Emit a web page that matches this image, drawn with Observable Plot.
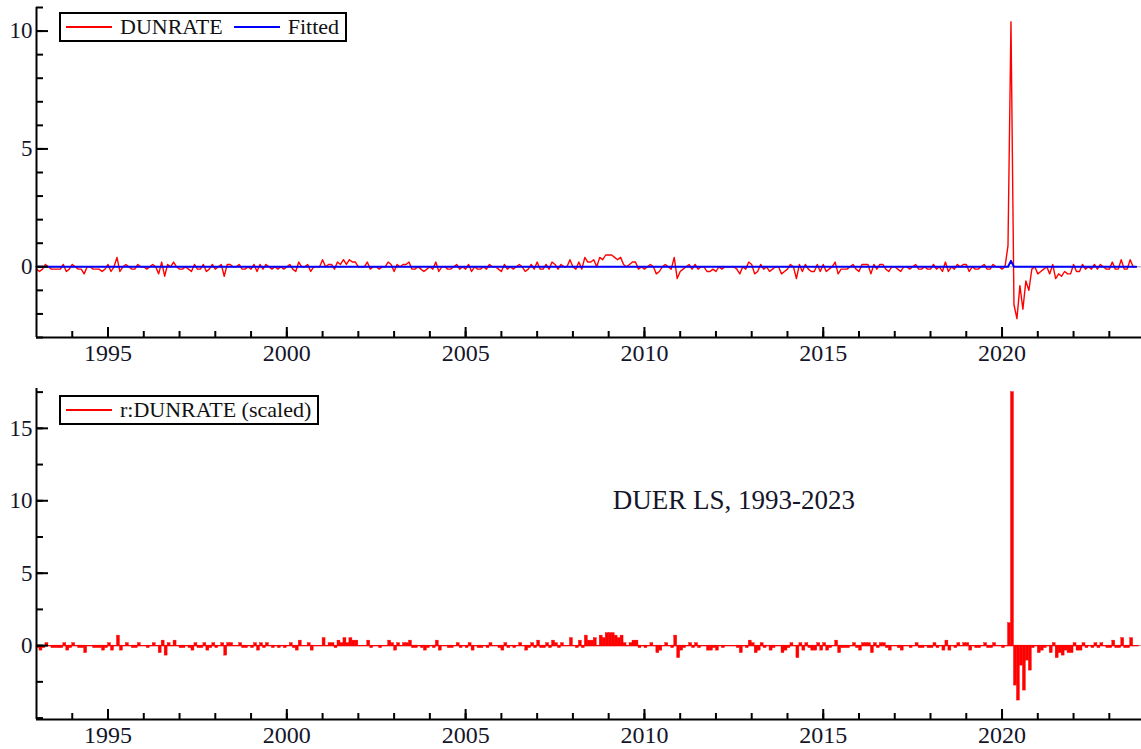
<!DOCTYPE html>
<html>
<head>
<meta charset="utf-8">
<script src="https://cdn.jsdelivr.net/npm/d3@7"></script>
<script src="https://cdn.jsdelivr.net/npm/@observablehq/plot@0.6"></script>
<style>
  html, body { margin: 0; padding: 0; background: #fff; }
  #wrap { position: relative; width: 1141px; height: 749px; font-family: "Liberation Serif", "Times New Roman", serif; }
  .legend { position: absolute; border: 2px solid #000; background: #fff; height: 26px; display: flex; align-items: center; font-size: 22px; color: #111; box-sizing: content-box; }
  .legend .sw { display: inline-block; width: 46px; height: 2px; margin: 0 8px 0 5px; }
  .legend .lab { margin-right: 6px; }
  svg { display: block; }
</style>
</head>
<body>
<div id="wrap">
  <div id="top"></div>
  <div id="bottom"></div>
</div>
<script>
// ---------- data ----------
const startYear = 1993;           // first observation: Jan 1993, monthly
const dunrate = [
  // 1993
  -0.1,-0.2,-0.1, 0.1, 0.0,-0.1,-0.1,-0.1,-0.1, 0.1,-0.2,-0.1,
  // 1994
   0.1, 0.0,-0.1,-0.1,-0.3, 0.0, 0.0,-0.1,-0.1,-0.1,-0.2,-0.1,
  // 1995
   0.1,-0.2, 0.0, 0.4,-0.2, 0.0, 0.1, 0.0,-0.1,-0.1, 0.1, 0.0,
  // 1996
   0.0,-0.1, 0.0, 0.1, 0.0,-0.3, 0.2,-0.4, 0.1, 0.0, 0.2, 0.0,
  // 1997
  -0.1,-0.1, 0.0,-0.1,-0.2, 0.1,-0.1,-0.1, 0.1,-0.2,-0.1, 0.1,
  // 1998
  -0.1, 0.0, 0.1,-0.4, 0.1, 0.1, 0.0, 0.0, 0.1,-0.1,-0.1, 0.0,
  // 1999
  -0.1, 0.1,-0.2, 0.1,-0.1, 0.1, 0.0,-0.1, 0.0,-0.1, 0.0,-0.1,
  // 2000
   0.0, 0.1,-0.1,-0.2, 0.2, 0.0, 0.0, 0.1,-0.2, 0.0, 0.0, 0.0,
  // 2001
   0.3, 0.0, 0.1, 0.1,-0.1, 0.2, 0.1, 0.3, 0.1, 0.3, 0.2, 0.2,
  // 2002
   0.0, 0.0, 0.0, 0.2,-0.1, 0.0, 0.0,-0.1, 0.0, 0.0, 0.2, 0.1,
  // 2003
  -0.2, 0.1, 0.0, 0.1, 0.1, 0.2,-0.1,-0.1, 0.0,-0.1,-0.2,-0.1,
  // 2004
   0.0,-0.1, 0.2,-0.2, 0.0, 0.0,-0.1,-0.1, 0.0, 0.1,-0.1, 0.0,
  // 2005
  -0.1, 0.1,-0.2, 0.0,-0.1,-0.1, 0.0,-0.1, 0.1, 0.0, 0.0,-0.1,
  // 2006
  -0.2, 0.1,-0.1, 0.0,-0.1, 0.0, 0.1, 0.0,-0.2,-0.1, 0.1,-0.1,
  // 2007
   0.2,-0.1,-0.1, 0.1,-0.1, 0.2, 0.1,-0.1, 0.1, 0.0, 0.0, 0.3,
  // 2008
   0.0,-0.1, 0.2,-0.1, 0.4, 0.2, 0.2, 0.3, 0.0, 0.4, 0.3, 0.5,
  // 2009
   0.5, 0.5, 0.4, 0.3, 0.4, 0.1, 0.0, 0.1, 0.2, 0.2,-0.1, 0.0,
  // 2010
  -0.1, 0.0, 0.1, 0.0,-0.3,-0.2, 0.0, 0.1, 0.0,-0.1, 0.4,-0.5,
  // 2011
  -0.2,-0.1, 0.0, 0.1,-0.1, 0.1,-0.1, 0.0, 0.0,-0.2,-0.2,-0.1,
  // 2012
  -0.2, 0.0,-0.1, 0.0, 0.0, 0.0, 0.0,-0.1,-0.3, 0.0,-0.1, 0.2,
  // 2013
   0.1,-0.3,-0.2, 0.1,-0.1, 0.0,-0.2,-0.1, 0.0, 0.0,-0.3,-0.2,
  // 2014
  -0.1, 0.1, 0.0,-0.5, 0.1,-0.2, 0.1,-0.1,-0.2,-0.2, 0.1,-0.2,
  // 2015
   0.1,-0.2,-0.1, 0.0, 0.2,-0.3,-0.1,-0.1,-0.1, 0.0, 0.1,-0.1,
  // 2016
  -0.2, 0.1, 0.1, 0.1,-0.3, 0.1,-0.1, 0.1, 0.1,-0.1,-0.2, 0.0,
  // 2017
   0.0,-0.1,-0.2, 0.0, 0.0,-0.1, 0.0, 0.1,-0.1,-0.1, 0.0,-0.1,
  // 2018
  -0.1, 0.1,-0.1, 0.0,-0.2, 0.2,-0.2, 0.0,-0.1, 0.1, 0.0, 0.1,
  // 2019
   0.1,-0.2, 0.0,-0.1,-0.1, 0.0, 0.1,-0.1,-0.1, 0.1, 0.0, 0.0,
  // 2020
  -0.1, 0.0, 0.9,10.4,-1.6,-2.2,-0.8,-1.8,-0.6,-1.0,-0.1, 0.0,
  // 2021
  -0.3,-0.2,-0.1, 0.0,-0.3, 0.1,-0.5,-0.3,-0.4,-0.2,-0.3,-0.3,
  // 2022
   0.1,-0.2,-0.2, 0.1,-0.1, 0.0,-0.1, 0.1,-0.1, 0.1, 0.0,-0.1,
  // 2023 (Jan-Oct)
  -0.1, 0.2,-0.1,-0.1, 0.3,-0.1,-0.1, 0.3, 0.0, 0.0
];

// Fitted series (essentially flat, small blip at the 2020 spike)
const fittedDates  = [1993.0, 2020 + 2/12, 2020 + 3/12, 2020 + 4/12, 2023 + 9/12];
const fittedValues = [0.0,    0.0,         0.25,        0.0,         0.0];
const residScale = 0.58;          // standard error used to scale residuals

const topYDomain = [-3, 11];
const botYDomain = [-5.1, 17.75];
const xDomain = [1993, 2023.9];
const xMajor = [1995, 2000, 2005, 2010, 2015, 2020];
const xMinor = d3.range(1994, 2024);
const topYMajor = [0, 5, 10];
const topYMinor = d3.range(-3, 12);
const botYMajor = [0, 5, 10, 15];
const botYMinor = d3.range(-5, 18, 2.5);
const annotation = {text: "DUER LS, 1993-2023", x: 2012.5, y: 10};

// ---------- derived tables ----------
const fittedAt = d3.scaleLinear().domain(fittedDates).range(fittedValues);
const series = dunrate.map((v, i) => {
  const t = startYear + i / 12;
  return {t, v, r: (v - fittedAt(t)) / residScale};
});
const fitted = fittedDates.map((t, i) => ({t, v: fittedValues[i]}));
const dataSpan = [{x1: series[0].t, x2: series[series.length - 1].t + 1 / 12}];

const FONT = "Liberation Serif, Times New Roman, serif";
const TXT = "#15152a";

function axes(yMajor, yMinor, yDom, xPad) {
  return [
    Plot.ruleX([xDomain[0]], {stroke: "#000", strokeWidth: 2}),
    Plot.ruleY([yDom[0]], {stroke: "#000", strokeWidth: 2}),
    Plot.axisY({ticks: yMajor, tickSize: 12, dx: 12, fill: "none", stroke: "#000", strokeWidth: 2}),
    Plot.axisY({ticks: yMinor, tickSize: 7, dx: 7, fill: "none", stroke: "#000", strokeWidth: 2}),
    Plot.axisY({ticks: yMajor, tickSize: 0, tickPadding: 4, tickFormat: d => String(d),
                fontSize: 23, fontFamily: FONT, fill: TXT, label: null}),
    Plot.axisX({ticks: xMajor, tickSize: 10, dy: -10, fill: "none", stroke: "#000", strokeWidth: 2}),
    Plot.axisX({ticks: xMinor, tickSize: 6, dy: -6, fill: "none", stroke: "#000", strokeWidth: 2}),
    Plot.axisX({ticks: xMajor, tickSize: 0, tickPadding: xPad, tickFormat: d => String(d),
                fontSize: 24, fontFamily: FONT, fill: TXT, label: null})
  ];
}

const topPlot = Plot.plot({
  width: 1141, height: 378,
  marginLeft: 36, marginRight: 0, marginTop: 7, marginBottom: 41,
  style: {fontFamily: FONT, background: "#fff"},
  x: {domain: xDomain, label: null},
  y: {domain: topYDomain, label: null},
  marks: [
    Plot.ruleY([0], {stroke: "#9a9a9a", strokeWidth: 1}),
    Plot.lineY(series, {x: "t", y: "v", stroke: "#ff0000", strokeWidth: 1.4}),
    Plot.line(fitted, {x: "t", y: "v", stroke: "#0000ff", strokeWidth: 2}),
    ...axes(topYMajor, topYMinor, topYDomain, 6)
  ]
});

const botPlot = Plot.plot({
  width: 1141, height: 371,
  marginLeft: 36, marginRight: 0, marginTop: 10, marginBottom: 30,
  style: {fontFamily: FONT, background: "#fff"},
  x: {domain: xDomain, label: null},
  y: {domain: botYDomain, label: null},
  marks: [
    Plot.ruleY([0], {stroke: "#9a9a9a", strokeWidth: 1}),
    Plot.ruleY(dataSpan, {y: () => 0, x1: "x1", x2: "x2", stroke: "#ff0000", strokeWidth: 1.2}),
    Plot.rect(series, {x1: "t", x2: d => d.t + 1 / 12, y1: 0, y2: "r",
                       fill: "#ff0000", stroke: "#ff0000", strokeWidth: 0.4}),
    Plot.text([annotation], {x: "x", y: "y", text: "text", fontSize: 27,
                             fontFamily: FONT, fill: TXT}),
    ...axes(botYMajor, botYMinor, botYDomain, 6)
  ]
});

document.getElementById("top").appendChild(topPlot);
document.getElementById("bottom").appendChild(botPlot);

// legends (overlaid in the plot areas)
function legend(items, left, top) {
  const div = document.createElement("div");
  div.className = "legend";
  div.style.left = left + "px";
  div.style.top = top + "px";
  for (const it of items) {
    const sw = document.createElement("span");
    sw.className = "sw";
    sw.style.background = it.color;
    const lab = document.createElement("span");
    lab.className = "lab";
    lab.textContent = it.label;
    div.appendChild(sw);
    div.appendChild(lab);
  }
  document.getElementById("wrap").appendChild(div);
}
legend([{label: "DUNRATE", color: "#ff0000"}, {label: "Fitted", color: "#0000ff"}], 59, 12);
legend([{label: "r:DUNRATE (scaled)", color: "#ff0000"}], 59, 395);
</script>
</body>
</html>
